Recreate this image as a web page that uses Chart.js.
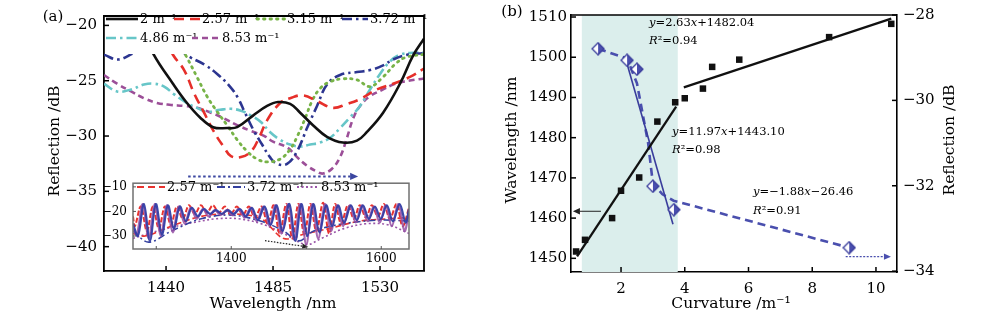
<!DOCTYPE html>
<html>
<head>
<meta charset="utf-8">
<script src="https://cdn.jsdelivr.net/npm/chart.js@4.4.1/dist/chart.umd.min.js"></script>
<style>
  body { margin: 0; background: #fff; }
  #wrap { position: relative; width: 1000px; height: 320px; overflow: hidden; }
  canvas { position: absolute; top: 0; }
</style>
</head>
<body>
<div id="wrap">
  <canvas id="ca" width="440" height="320" style="left:0"></canvas>
  <canvas id="ci" width="318" height="100" style="left:100px;top:170px"></canvas>
  <canvas id="cb" width="520" height="320" style="left:480px"></canvas>
</div>
<script>
// ---------- panel (a) : reflection spectra ----------
const wlTicksA = [1440, 1485, 1530];
const rTicksA = [-40, -35, -30, -25, -20];

// [wavelength nm, reflection dB]
const curv2 = [[1432.4,-21.2],[1434.7,-22.6],[1442.9,-25.27],[1448.8,-27.01],[1454.3,-28.32],[1459.8,-29.2],[1465.7,-29.28],[1469.9,-29.2],[1476.6,-28.15],[1482.5,-27.28],[1487.1,-26.93],[1492.2,-27.1],[1496.4,-27.89],[1501.8,-29.02],[1507.7,-30.07],[1514.4,-30.59],[1520.3,-30.42],[1524.5,-29.63],[1531.3,-27.89],[1538.4,-25.27],[1543.9,-22.73],[1548.5,-21.2]];
const curv257 = [[1439.6,-21.16],[1442.9,-22.65],[1447.6,-24.04],[1451.8,-26.14],[1456.0,-27.89],[1460.2,-29.63],[1464.4,-31.03],[1467.3,-31.82],[1471.5,-31.9],[1475.8,-31.38],[1479.1,-30.16],[1482.5,-28.58],[1488.0,-27.01],[1492.2,-26.58],[1497.6,-26.32],[1503.5,-26.84],[1510.2,-27.45],[1516.1,-27.1],[1521.6,-26.66],[1528.7,-25.79],[1535.5,-25.27],[1542.6,-24.66],[1548.5,-23.9]];
const curv315 = [[1444.2,-21.16],[1448.8,-22.91],[1453.0,-24.66],[1457.2,-26.4],[1461.5,-27.8],[1465.7,-29.02],[1469.9,-30.33],[1474.1,-31.38],[1478.3,-32.08],[1482.5,-32.34],[1488.0,-32.08],[1492.2,-31.2],[1495.5,-29.89],[1498.5,-28.41],[1501.4,-26.84],[1504.8,-25.7],[1509.0,-25.09],[1514.4,-24.83],[1520.3,-24.92],[1525.8,-25.53],[1531.3,-24.66],[1536.3,-23.52],[1540.5,-22.91],[1548.5,-22.6]];
const curv372 = [[1413.9,-22.65],[1419.8,-23.08],[1425.7,-22.56],[1433.3,-21.6],[1441.0,-21.5],[1449.7,-22.82],[1456.0,-23.52],[1461.5,-24.39],[1466.9,-25.53],[1470.3,-26.58],[1473.2,-27.89],[1477.0,-29.55],[1480.4,-30.77],[1483.7,-31.91],[1486.7,-32.52],[1490.9,-32.52],[1495.1,-31.38],[1499.3,-29.28],[1503.5,-27.28],[1507.7,-25.35],[1513.2,-24.48],[1520.3,-24.22],[1525.8,-24.04],[1531.3,-23.61],[1535.5,-23.08],[1541.4,-22.65],[1548.5,-22.5]];
const curv486 = [[1413.9,-25.27],[1419.4,-25.97],[1425.3,-25.79],[1430.7,-25.35],[1435.0,-25.27],[1439.2,-25.53],[1443.4,-26.23],[1448.8,-27.01],[1453.0,-27.45],[1457.2,-27.8],[1462.7,-27.63],[1467.3,-27.54],[1471.5,-27.71],[1475.8,-28.15],[1480.0,-28.76],[1483.7,-29.63],[1487.9,-30.33],[1492.2,-30.77],[1496.4,-30.95],[1500.6,-30.77],[1504.8,-30.59],[1509.0,-30.16],[1513.2,-29.28],[1517.4,-28.32],[1521.6,-27.28],[1525.8,-25.79],[1530.0,-24.39],[1534.2,-23.26],[1538.4,-22.65],[1543.9,-22.47],[1548.5,-22.47]];
const curv853 = [[1413.9,-24.48],[1419.4,-25.27],[1425.3,-25.97],[1430.7,-26.58],[1436.2,-27.01],[1442.1,-27.19],[1447.6,-27.28],[1453.0,-27.45],[1458.9,-27.89],[1464.4,-28.41],[1469.9,-29.02],[1475.8,-29.55],[1481.2,-29.98],[1485.0,-30.51],[1490.9,-31.03],[1495.1,-31.91],[1499.3,-32.69],[1503.5,-33.22],[1506.0,-33.39],[1509.8,-32.96],[1513.2,-31.91],[1516.1,-30.16],[1518.7,-28.41],[1521.6,-27.28],[1525.8,-26.4],[1531.3,-25.79],[1535.5,-25.35],[1539.7,-25.09],[1548.5,-24.8]];
const shiftArrowA = [1449.3, 1520.8, -33.65];

// ---------- inset of panel (a) ----------
const wlTicksIn = [1400, 1600];
const wlMinorIn = [1300, 1500];
const rTicksIn = [-30, -20, -10];
const combRed = [[1269,-22],[1271.5,-26],[1279.5,-18],[1287.5,-28],[1295.5,-18],[1303.5,-27],[1311.5,-18],[1319.5,-25.5],[1327.5,-18],[1335.5,-23],[1343.5,-17.5],[1351.5,-21],[1359.5,-17.5],[1367.5,-20.5],[1375.5,-17.5],[1383.5,-20.5],[1391.5,-18],[1399.5,-21],[1407.5,-18],[1415.5,-21.5],[1423.5,-18],[1431.5,-22.5],[1440.5,-18],[1448.5,-25],[1456.5,-17.5],[1464.5,-29],[1473.5,-17],[1481.5,-31],[1489.5,-17],[1497.5,-29.5],[1505.5,-17],[1513.5,-28],[1522.5,-16.5],[1530.5,-29],[1538.5,-17],[1546.5,-25],[1555.5,-17.5],[1563.5,-23],[1571.5,-17.5],[1579.5,-22.5],[1587.5,-17.5],[1595.5,-22],[1603.5,-17],[1611.5,-23],[1620.5,-17],[1628.5,-26],[1637,-18.5]];
const combNavy = [[1269,-25],[1275.5,-30],[1283.5,-17],[1291.5,-32],[1299.5,-17],[1307.5,-29.5],[1315.5,-17.5],[1323.5,-27],[1331.5,-18],[1339.5,-24],[1347.5,-18.5],[1355.5,-22],[1363.5,-19],[1371.5,-21],[1379.5,-19.5],[1387.5,-21],[1395.5,-19.5],[1403.5,-21],[1411.5,-19],[1419.5,-22],[1427.5,-18.5],[1435.5,-23.5],[1444.5,-18],[1452.5,-25.5],[1460.5,-17.5],[1468.5,-28],[1477.5,-17],[1485.5,-32],[1493.5,-17],[1501.5,-30],[1509.5,-17],[1517.5,-28.5],[1526.5,-17.5],[1534.5,-26],[1542.5,-17.5],[1550.5,-24.5],[1559.5,-17.5],[1567.5,-23.5],[1575.5,-17.5],[1583.5,-23],[1591.5,-18],[1599.5,-23],[1607.5,-17.5],[1615.5,-24],[1624.5,-17],[1632.5,-24.5],[1637,-19]];
const combPurple = [[1269,-27],[1274,-29.5],[1282,-17],[1290,-31],[1298,-17],[1306,-30],[1314,-17.5],[1322,-28.5],[1330,-18],[1338,-25],[1346,-18.5],[1354,-23],[1362,-19],[1370,-22],[1378,-19.5],[1386,-21.5],[1394,-19.5],[1402,-21.5],[1410,-19],[1418,-22.5],[1426,-18.5],[1434,-24],[1443,-18],[1451,-26],[1459,-17.5],[1467,-29],[1476,-17],[1484,-31.5],[1492,-17],[1500,-33.5],[1508,-17],[1516,-31],[1525,-17],[1533,-28],[1541,-17.5],[1549,-26],[1558,-17.5],[1566,-24.5],[1574,-17.5],[1582,-24],[1590,-18],[1598,-24.5],[1606,-17.5],[1614,-26],[1623,-17],[1631,-28],[1637,-20]];
const envRed = [[1269,-29],[1285,-30],[1320,-26],[1360,-22],[1400,-21],[1440,-23],[1470,-31],[1500,-29],[1530,-27],[1570,-24],[1610,-23],[1637,-22.5]];
const envNavy = [[1269,-28],[1290,-32.5],[1320,-28],[1360,-23],[1400,-21.5],[1440,-24],[1470,-28],[1490,-32],[1510,-28],[1550,-25],[1600,-23.5],[1637,-24]];
const envPurple = [[1269,-31],[1290,-29],[1320,-26.5],[1350,-24.5],[1380,-23],[1410,-23],[1440,-25],[1470,-29],[1500,-33.5],[1520,-31],[1550,-27],[1580,-25],[1610,-25.5],[1637,-29]];
const dipArrowIn = [1445, -31.9, 1502.7, -34.5];

// ---------- panel (b) : wavelength / reflection vs curvature ----------
const curvTicksB = [2, 4, 6, 8, 10];
const wlTicksB = [1450, 1460, 1470, 1480, 1490, 1500, 1510];
const rTicksB = [-34, -32, -30, -28];
const curvWl = [0.59, 0.87, 1.72, 2.0, 2.57, 3.14, 3.7, 4.0, 4.57, 4.86, 5.71, 8.53, 10.48];
const dipWl = [1451.7, 1454.6, 1460.0, 1466.8, 1470.1, 1484.0, 1488.8, 1489.8, 1492.2, 1497.6, 1499.4, 1505.0, 1508.3];
const fitWlLow = [[0.62, 1450.5], [3.73, 1487.7]];
const fitWlHigh = [[3.97, 1492.5], [10.48, 1509.6]];
const curvR = [1.28, 2.19, 2.5, 3.0, 3.66, 9.16];
const dipR = [-28.79, -29.06, -29.27, -32.01, -32.56, -33.45];
const fitRSteep = [[2.13, -28.99], [3.63, -32.9]];
const trendR = [[1.28,-28.79],[2.19,-29.02],[2.5,-29.6],[2.85,-31.0],[3.0,-31.95],[3.3,-32.2],[3.65,-32.35],[9.16,-33.45]];
const shadeB = [0.77, 3.78];
const leftArrowB = [1.37, 0.49, 1461.7];
const rightArrowB = [9.05, 10.47, -33.66];

const SERIF = "'DejaVu Serif', serif";
Chart.defaults.font.family = SERIF;
Chart.defaults.color = '#000';

function pts(a) { return a.map(p => ({ x: p[0], y: p[1] })); }
function minus(v) { return String(v).replace('-', '\u2212'); }
function setTicks(list) { return s => { s.ticks = list.map(v => ({ value: v })); }; }

function arrow(ctx, x1, y1, x2, y2, color, dash, lw, head) {
  ctx.save();
  ctx.strokeStyle = color; ctx.fillStyle = color; ctx.lineWidth = lw;
  const ang = Math.atan2(y2 - y1, x2 - x1);
  const hx = x2 - head * Math.cos(ang), hy = y2 - head * Math.sin(ang);
  ctx.setLineDash(dash);
  ctx.beginPath(); ctx.moveTo(x1, y1); ctx.lineTo(hx, hy); ctx.stroke();
  ctx.setLineDash([]);
  const w = head * 0.45;
  ctx.beginPath(); ctx.moveTo(x2, y2);
  ctx.lineTo(hx - w * Math.sin(ang), hy + w * Math.cos(ang));
  ctx.lineTo(hx + w * Math.sin(ang), hy - w * Math.cos(ang));
  ctx.closePath(); ctx.fill();
  ctx.restore();
}

function text(ctx, s, x, y, size, align, rot) {
  ctx.save();
  ctx.font = size + 'px ' + SERIF;
  ctx.fillStyle = '#000';
  ctx.textAlign = align || 'center';
  ctx.textBaseline = 'middle';
  ctx.translate(x, y);
  if (rot) ctx.rotate(rot);
  ctx.fillText(s, 0, 0);
  ctx.restore();
}

function rich(ctx, x, y, parts, size) {
  ctx.save();
  ctx.fillStyle = '#000';
  ctx.textBaseline = 'middle';
  ctx.textAlign = 'left';
  let cx = x;
  parts.forEach(([t, it]) => {
    ctx.font = (it ? 'italic ' : '') + size + 'px ' + SERIF;
    ctx.fillText(t, cx, y);
    cx += ctx.measureText(t).width;
  });
  ctx.restore();
}

function sample(ctx, x1, x2, y, color, dash, lw, cap) {
  ctx.save();
  ctx.strokeStyle = color; ctx.lineWidth = lw; ctx.lineCap = cap || 'butt';
  ctx.setLineDash(dash);
  ctx.beginPath(); ctx.moveTo(x1, y); ctx.lineTo(x2, y); ctx.stroke();
  ctx.restore();
}

function inwardTicks(ctx, scale, values, len, side, color, lw) {
  ctx.save();
  ctx.strokeStyle = color; ctx.lineWidth = lw;
  values.forEach(v => {
    const p = scale.getPixelForValue(v);
    ctx.beginPath();
    if (side === 'bottom') { ctx.moveTo(p, scale.top); ctx.lineTo(p, scale.top - len); }
    if (side === 'left') { ctx.moveTo(scale.right, p); ctx.lineTo(scale.right + len, p); }
    if (side === 'right') { ctx.moveTo(scale.left, p); ctx.lineTo(scale.left - len, p); }
    ctx.stroke();
  });
  ctx.restore();
}

// ---------------- chart (a) ----------------
const seriesA = [
  { label: '2 m\u207b\u00b9', data: curv2, color: '#111111', dash: [], w: 2.6, lx: [106, 138, 140, 19] },
  { label: '2.57 m\u207b\u00b9', data: curv257, color: '#e62f2a', dash: [10, 6], w: 2.6, lx: [174, 200, 202, 19] },
  { label: '3.15 m\u207b\u00b9', data: curv315, color: '#77b347', dash: [1.5, 5], w: 2.8, cap: 'round', lx: [257, 285, 287, 19] },
  { label: '3.72 m\u207b\u00b9', data: curv372, color: '#2c3590', dash: [10, 4, 2.5, 4], w: 2.6, lx: [342, 368, 370, 19] },
  { label: '4.86 m\u207b\u00b9', data: curv486, color: '#67c6c8', dash: [10, 4, 2.5, 4], w: 2.6, lx: [106, 138, 140, 38] },
  { label: '8.53 m\u207b\u00b9', data: curv853, color: '#9c4f98', dash: [6, 4], w: 2.6, lx: [192, 218, 222, 38] }
];

const plugA = {
  id: 'plugA',
  afterDatasetsDraw(chart) {
    const ctx = chart.ctx, xs = chart.scales.x, ys = chart.scales.y, a = chart.chartArea;
    arrow(ctx, xs.getPixelForValue(shiftArrowA[0]), ys.getPixelForValue(shiftArrowA[2]),
      xs.getPixelForValue(shiftArrowA[1]), ys.getPixelForValue(shiftArrowA[2]), '#3b46a0', [2.5, 2.5], 2, 8);
    ctx.save();
    ctx.fillStyle = '#fff';
    ctx.fillRect(a.left + 1, a.top, a.right - a.left - 2, 22);
    ctx.fillRect(a.left + 1, a.top + 22, 172, 16);
    ctx.restore();
    seriesA.forEach(s => {
      sample(ctx, s.lx[0], s.lx[1], s.lx[3], s.color, s.dash, s.w, s.cap);
      text(ctx, s.label, s.lx[2], s.lx[3] + 0.5, 13, 'left');
    });
  },
  afterDraw(chart) {
    const ctx = chart.ctx, xs = chart.scales.x, ys = chart.scales.y, a = chart.chartArea;
    inwardTicks(ctx, xs, wlTicksA, 5, 'bottom', '#000', 1.5);
    inwardTicks(ctx, ys, rTicksA, 5, 'left', '#000', 1.5);
    ctx.save();
    ctx.strokeStyle = '#000'; ctx.lineWidth = 1.8;
    ctx.beginPath(); ctx.moveTo(a.left, a.top); ctx.lineTo(a.right, a.top); ctx.lineTo(a.right, a.bottom); ctx.stroke();
    ctx.restore();
    text(ctx, '(a)', 53, 17, 15);
    text(ctx, 'Reflection /dB', 55, 141, 15.5, 'center', -Math.PI / 2);
    text(ctx, 'Wavelength /nm', 273, 304, 15.5);
  }
};

new Chart(document.getElementById('ca'), {
  type: 'scatter',
  data: {
    datasets: seriesA.map(s => ({
      label: s.label, data: pts(s.data), showLine: true, borderColor: s.color,
      borderDash: s.dash, borderWidth: s.w, borderCapStyle: s.cap || 'butt',
      pointRadius: 0, tension: 0.4, fill: false
    }))
  },
  options: {
    responsive: false, animation: false, devicePixelRatio: 1,
    layout: { padding: { top: 8, right: 16, left: 0, bottom: 0 } },
    plugins: { legend: { display: false }, tooltip: { enabled: false } },
    scales: {
      x: {
        type: 'linear', min: 1413.9, max: 1548.5,
        afterBuildTicks: setTicks(wlTicksA), afterFit: s => { s.height = 49; },
        grid: { display: false, drawTicks: false }, border: { color: '#000', width: 1.8 },
        ticks: { padding: 8, font: { size: 15 }, maxRotation: 0, callback: minus }
      },
      y: {
        type: 'linear', min: -42.2, max: -19.15,
        afterBuildTicks: setTicks(rTicksA), afterFit: s => { s.width = 104; },
        grid: { display: false, drawTicks: false }, border: { color: '#000', width: 1.8 },
        ticks: { padding: 7, font: { size: 15 }, callback: minus }
      }
    }
  },
  plugins: [plugA]
});

// ---------------- inset ----------------
const insetSets = [
  { data: combNavy, color: 'rgba(52,62,165,0.95)', dash: [], w: 2.2 },
  { data: combPurple, color: 'rgba(150,80,165,0.85)', dash: [], w: 2.2 },
  { data: combRed, color: '#e8332f', dash: [5, 2], w: 2 },
  { data: envNavy, color: '#34409e', dash: [7, 3, 2, 3], w: 1.6 },
  { data: envRed, color: '#e8332f', dash: [6, 3], w: 1.6 },
  { data: envPurple, color: '#9a55a8', dash: [2, 2.5], w: 1.6 }
];
const legIn = [
  { label: '2.57 m\u207b\u00b9', color: '#e8332f', dash: [7, 4], lx: [37, 65, 67] },
  { label: '3.72 m\u207b\u00b9', color: '#34409e', dash: [8, 3, 2, 3], lx: [117, 145, 147] },
  { label: '8.53 m\u207b\u00b9', color: '#9a55a8', dash: [2, 2.5], lx: [197, 219, 221] }
];

const plugIn = {
  id: 'plugIn',
  beforeDatasetsDraw(chart) {
    const ctx = chart.ctx, a = chart.chartArea;
    ctx.save(); ctx.fillStyle = '#fff'; ctx.fillRect(a.left, a.top, a.right - a.left, a.bottom - a.top); ctx.restore();
  },
  afterDraw(chart) {
    const ctx = chart.ctx, xs = chart.scales.x, ys = chart.scales.y, a = chart.chartArea;
    arrow(ctx, xs.getPixelForValue(dipArrowIn[0]), ys.getPixelForValue(dipArrowIn[1]),
      xs.getPixelForValue(dipArrowIn[2]), ys.getPixelForValue(dipArrowIn[3]), '#222', [1.5, 1.5], 1.2, 6);
    ctx.save();
    ctx.strokeStyle = '#707070'; ctx.lineWidth = 1.5;
    ctx.strokeRect(a.left, a.top, a.right - a.left, a.bottom - a.top);
    ctx.restore();
    inwardTicks(ctx, xs, wlTicksIn.concat(wlMinorIn), 3, 'bottom', '#555', 1);
    inwardTicks(ctx, ys, rTicksIn, 3, 'left', '#555', 1);
    legIn.forEach(s => {
      sample(ctx, s.lx[0], s.lx[1], 17, s.color, s.dash, 1.8);
      text(ctx, s.label, s.lx[2], 17.5, 13, 'left');
    });
  }
};

new Chart(document.getElementById('ci'), {
  type: 'scatter',
  data: {
    datasets: insetSets.map(s => ({
      data: pts(s.data), showLine: true, borderColor: s.color, borderDash: s.dash,
      borderWidth: s.w, pointRadius: 0, tension: 0.35, fill: false
    }))
  },
  options: {
    responsive: false, animation: false, devicePixelRatio: 1,
    layout: { padding: { top: 8, right: 9, left: 0, bottom: 0 } },
    plugins: { legend: { display: false }, tooltip: { enabled: false } },
    scales: {
      x: {
        type: 'linear', min: 1269, max: 1637,
        afterBuildTicks: setTicks(wlTicksIn), afterFit: s => { s.height = 21; },
        grid: { display: false, drawTicks: false }, border: { display: false },
        ticks: { padding: 3, font: { size: 12 }, maxRotation: 0, callback: minus }
      },
      y: {
        type: 'linear', min: -35.3, max: -8.5,
        afterBuildTicks: setTicks(rTicksIn), afterFit: s => { s.width = 33; },
        grid: { display: false, drawTicks: false }, border: { display: false },
        ticks: { padding: 6, font: { size: 12 }, callback: minus }
      }
    }
  },
  plugins: [plugIn]
});

// ---------------- chart (b) ----------------
const dia = document.createElement('canvas');
dia.width = 14; dia.height = 14;
(function () {
  const d = dia.getContext('2d');
  d.beginPath(); d.moveTo(7, 1); d.lineTo(13, 7); d.lineTo(7, 13); d.lineTo(1, 7); d.closePath();
  d.fillStyle = '#fff'; d.fill();
  d.beginPath(); d.moveTo(7, 1); d.lineTo(13, 7); d.lineTo(7, 13); d.closePath();
  d.fillStyle = '#4a4fae'; d.fill();
  d.beginPath(); d.moveTo(7, 1); d.lineTo(13, 7); d.lineTo(7, 13); d.lineTo(1, 7); d.closePath();
  d.strokeStyle = '#3a3d9c'; d.lineWidth = 1.3; d.stroke();
})();

const eqB = [
  { x: 169, y: 23, parts: [['y', 1], ['=2.63', 0], ['x', 1], ['+1482.04', 0]] },
  { x: 169, y: 41, parts: [['R', 1], ['\u00b2=0.94', 0]] },
  { x: 192, y: 132, parts: [['y', 1], ['=11.97', 0], ['x', 1], ['+1443.10', 0]] },
  { x: 192, y: 150, parts: [['R', 1], ['\u00b2=0.98', 0]] },
  { x: 273, y: 192, parts: [['y', 1], ['=\u22121.88', 0], ['x', 1], ['\u221226.46', 0]] },
  { x: 273, y: 211, parts: [['R', 1], ['\u00b2=0.91', 0]] }
];

const plugB = {
  id: 'plugB',
  beforeDatasetsDraw(chart) {
    const ctx = chart.ctx, xs = chart.scales.x, a = chart.chartArea;
    const x1 = xs.getPixelForValue(shadeB[0]), x2 = xs.getPixelForValue(shadeB[1]);
    ctx.save(); ctx.fillStyle = 'rgb(219,238,236)'; ctx.fillRect(x1, a.top, x2 - x1, a.bottom - a.top); ctx.restore();
  },
  afterDraw(chart) {
    const ctx = chart.ctx, xs = chart.scales.x, ys = chart.scales.y, y2 = chart.scales.y2, a = chart.chartArea;
    arrow(ctx, xs.getPixelForValue(leftArrowB[0]), ys.getPixelForValue(leftArrowB[2]),
      xs.getPixelForValue(leftArrowB[1]), ys.getPixelForValue(leftArrowB[2]), '#222', [], 1, 7);
    arrow(ctx, xs.getPixelForValue(rightArrowB[0]), y2.getPixelForValue(rightArrowB[2]),
      xs.getPixelForValue(rightArrowB[1]), y2.getPixelForValue(rightArrowB[2]), '#4a4fae', [2, 1.5], 1.4, 7);
    inwardTicks(ctx, xs, curvTicksB, 5, 'bottom', '#000', 1.5);
    inwardTicks(ctx, ys, wlTicksB, 5, 'left', '#000', 1.5);
    inwardTicks(ctx, y2, rTicksB, 5, 'right', '#000', 1.5);
    ctx.save();
    ctx.strokeStyle = '#000'; ctx.lineWidth = 1.6;
    ctx.beginPath(); ctx.moveTo(a.left, a.top); ctx.lineTo(a.right, a.top); ctx.stroke();
    ctx.restore();
    eqB.forEach(e => rich(ctx, e.x, e.y, e.parts, 11.5));
    text(ctx, '(b)', 32, 12, 15);
    text(ctx, 'Wavelength /nm', 32, 140, 15.5, 'center', -Math.PI / 2);
    text(ctx, 'Reflection /dB', 470, 140, 15.5, 'center', -Math.PI / 2);
    text(ctx, 'Curvature /m\u207b\u00b9', 251, 304, 15.5);
  }
};

new Chart(document.getElementById('cb'), {
  type: 'scatter',
  data: {
    datasets: [
      { data: curvWl.map((c, i) => ({ x: c, y: dipWl[i] })), yAxisID: 'y', pointStyle: 'rect',
        pointRadius: 4.6, backgroundColor: '#111', borderColor: '#111', borderWidth: 0, showLine: false },
      { data: curvR.map((c, i) => ({ x: c, y: dipR[i] })), yAxisID: 'y2', pointStyle: dia,
        pointRadius: 7, showLine: false },
      { data: pts(fitWlLow), yAxisID: 'y', showLine: true, borderColor: '#111', borderWidth: 2.3, pointRadius: 0 },
      { data: pts(fitWlHigh), yAxisID: 'y', showLine: true, borderColor: '#111', borderWidth: 2.3, pointRadius: 0 },
      { data: pts(fitRSteep), yAxisID: 'y2', showLine: true, borderColor: '#3a3d9c', borderWidth: 1.6, pointRadius: 0 },
      { data: pts(trendR), yAxisID: 'y2', showLine: true, borderColor: '#4a4fae', borderWidth: 2.6,
        borderDash: [8, 5], pointRadius: 0, tension: 0 }
    ]
  },
  options: {
    responsive: false, animation: false, devicePixelRatio: 1,
    layout: { padding: { top: 10, right: 0, left: 0, bottom: 0 } },
    plugins: { legend: { display: false }, tooltip: { enabled: false } },
    scales: {
      x: {
        type: 'linear', min: 0.43, max: 10.66,
        afterBuildTicks: setTicks(curvTicksB), afterFit: s => { s.height = 48; },
        grid: { display: false, drawTicks: false }, border: { color: '#000', width: 1.6 },
        ticks: { padding: 8, font: { size: 15 }, maxRotation: 0, callback: minus }
      },
      y: {
        type: 'linear', position: 'left', min: 1446.6, max: 1510.5,
        afterBuildTicks: setTicks(wlTicksB), afterFit: s => { s.width = 91; },
        grid: { display: false, drawTicks: false }, border: { color: '#000', width: 1.6 },
        ticks: { padding: 4, font: { size: 15 }, callback: minus }
      },
      y2: {
        type: 'linear', position: 'right', min: -34.02, max: -28,
        afterBuildTicks: setTicks(rTicksB), afterFit: s => { s.width = 103; },
        grid: { display: false, drawTicks: false }, border: { color: '#000', width: 1.6 },
        ticks: { padding: 6, font: { size: 15 }, callback: minus }
      }
    }
  },
  plugins: [plugB]
});
</script>
</body>
</html>
